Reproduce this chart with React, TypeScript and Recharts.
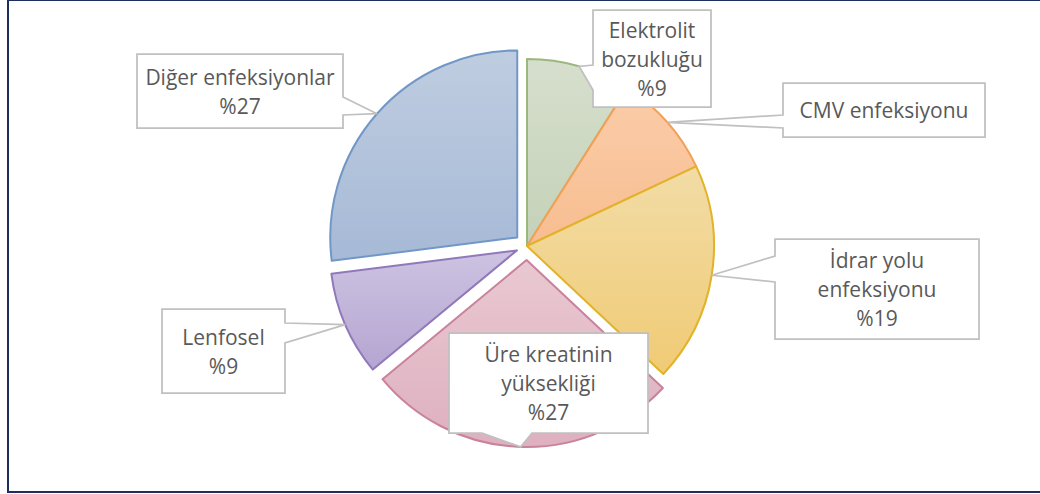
import React from 'react';
import { PieChart, Pie, Sector } from 'recharts';

// ---- data ----
const categories = [
  'Elektrolit bozukluğu',
  'CMV enfeksiyonu',
  'İdrar yolu enfeksiyonu',
  'Üre kreatinin yüksekliği',
  'Lenfosel',
  'Diğer enfeksiyonlar',
];
const values = [9, 9, 19, 27, 9, 27];
const labelLines = [
  ['Elektrolit', 'bozukluğu'],
  ['CMV enfeksiyonu'],
  ['İdrar yolu', 'enfeksiyonu'],
  ['Üre kreatinin', 'yüksekliği'],
  ['Lenfosel'],
  ['Diğer enfeksiyonlar'],
];
const showPercent = [true, false, true, true, true, true];

// ---- styles ----
const fillTop = ['#d6dfcd', '#fbcdaa', '#f2dca6', '#e9c8d1', '#cdc3e1', '#bfcde0'];
const fillBottom = ['#c4d1b7', '#f7bd8f', '#f0cb75', '#deb0c0', '#b5a5d2', '#a6b9d6'];
const strokes = ['#9bb77d', '#f3a057', '#e2b229', '#c9829c', '#9079bb', '#7197c6'];
const explode = [0, 0, 0, 14, 11, 13];

// callout boxes: x, y, w, h, side of pointer, pointer base (two coords along side)
const callouts = [
  { x: 593, y: 10, w: 118, h: 97, side: 'left', b1: 65, b2: 90 },
  { x: 783, y: 83, w: 202, h: 54, side: 'left', b1: 115, b2: 128 },
  { x: 775, y: 239, w: 204, h: 100, side: 'left', b1: 256, b2: 282 },
  { x: 449, y: 333, w: 199, h: 100, side: 'bottom', b1: 482, b2: 532 },
  { x: 162, y: 309, w: 123, h: 84, side: 'right', b1: 323, b2: 343 },
  { x: 137, y: 54, w: 206, h: 74, side: 'right', b1: 97, b2: 115 },
];

const data = categories.map((name, i) => ({ name, value: values[i] }));

const RAD = Math.PI / 180;
const FONT = '"Open Sans", sans-serif';
const LINE = 29;

function shifted(cx: number, cy: number, midAngle: number, e: number) {
  return [cx + e * Math.cos(-midAngle * RAD), cy + e * Math.sin(-midAngle * RAD)];
}

function idxOf(props: any) {
  const n = props?.payload?.name ?? props?.name;
  const i = categories.indexOf(n);
  return i >= 0 ? i : props.index ?? 0;
}

const renderShape = (props: any) => {
  const i = idxOf(props);
  const [x, y] = shifted(props.cx, props.cy, props.midAngle, explode[i] || 0);
  return (
    <Sector
      cx={x}
      cy={y}
      innerRadius={props.innerRadius}
      outerRadius={props.outerRadius}
      startAngle={props.startAngle}
      endAngle={props.endAngle}
      fill={`url(#sliceGrad${i})`}
      stroke={strokes[i]}
      strokeWidth={2}
      strokeLinejoin="round"
    />
  );
};

const renderLabel = (props: any) => {
  const i = idxOf(props);
  const { cx, cy, midAngle, outerRadius, percent } = props;
  const [sx, sy] = shifted(cx, cy, midAngle, explode[i] || 0);
  const tx = sx + outerRadius * Math.cos(-midAngle * RAD);
  const ty = sy + outerRadius * Math.sin(-midAngle * RAD);
  const c = callouts[i];
  const L = c.x, R = c.x + c.w, T = c.y, B = c.y + c.h;
  let pts: number[][] = [];
  if (c.side === 'left') {
    pts = [[L, T], [R, T], [R, B], [L, B], [L, c.b2], [tx, ty], [L, c.b1]];
  } else if (c.side === 'right') {
    pts = [[L, T], [R, T], [R, c.b1], [tx, ty], [R, c.b2], [R, B], [L, B]];
  } else {
    pts = [[L, T], [R, T], [R, B], [c.b2, B], [tx, ty], [c.b1, B], [L, B]];
  }
  const d = 'M' + pts.map((p) => `${p[0]},${p[1]}`).join('L') + 'Z';
  const lines = [...labelLines[i]];
  if (showPercent[i]) lines.push('%' + Math.round(percent * 100));
  const midY = T + c.h / 2;
  const startY = midY - ((lines.length - 1) * LINE) / 2;
  return (
    <g key={`lbl${i}`}>
      <path d={d} fill="#ffffff" stroke="#c0c0c0" strokeWidth={1.75} strokeLinejoin="miter" />
      {lines.map((t, k) => (
        <text
          key={k}
          x={L + c.w / 2}
          y={startY + k * LINE}
          textAnchor="middle"
          dominantBaseline="central"
          fontFamily={FONT}
          fontSize={21}
          fill="#595959"
        >
          {t}
        </text>
      ))}
    </g>
  );
};

export default function App() {
  return (
    <div style={{ position: 'absolute', left: 0, top: 0, width: 1040, height: 494, background: '#ffffff', overflow: 'hidden' }}>
      <svg width={0} height={0} style={{ position: 'absolute' }}>
        <defs>
          {categories.map((_, i) => (
            <linearGradient key={i} id={`sliceGrad${i}`} x1="0" y1="0" x2="0" y2="1">
              <stop offset="0%" stopColor={fillTop[i]} />
              <stop offset="100%" stopColor={fillBottom[i]} />
            </linearGradient>
          ))}
        </defs>
      </svg>
      <div
        style={{
          position: 'absolute',
          left: 7,
          top: -1,
          width: 1060,
          height: 494,
          boxSizing: 'border-box',
          border: '2px solid #1c2f5f',
        }}
      />
      <div style={{ position: 'absolute', left: 0, top: 0 }}>
        <PieChart width={1040} height={494} margin={{ top: 0, right: 0, bottom: 0, left: 0 }}>
          <Pie
            data={data}
            dataKey="value"
            nameKey="name"
            cx={527}
            cy={246}
            innerRadius={0}
            outerRadius={187}
            startAngle={90}
            endAngle={-270}
            isAnimationActive={false}
            labelLine={false}
            label={renderLabel}
            shape={renderShape}
            inactiveShape={renderShape}
            activeShape={renderShape}
          />
        </PieChart>
      </div>
    </div>
  );
}
